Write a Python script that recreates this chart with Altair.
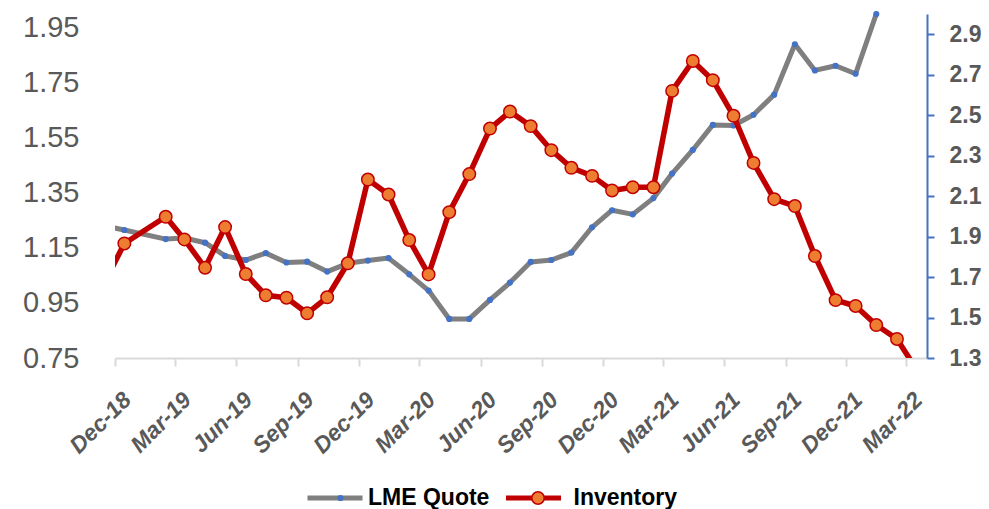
import altair as alt
import pandas as pd

# ---- data ----
lme_months = ["2018-11", "2018-12", "2019-02", "2019-03", "2019-04", "2019-05", "2019-06",
              "2019-07", "2019-08", "2019-09", "2019-10", "2019-11", "2019-12",
              "2020-01", "2020-02", "2020-03", "2020-04", "2020-05", "2020-06",
              "2020-07", "2020-08", "2020-09", "2020-10", "2020-11", "2020-12",
              "2021-01", "2021-02", "2021-03", "2021-04", "2021-05", "2021-06",
              "2021-07", "2021-08", "2021-09", "2021-10", "2021-11", "2021-12",
              "2022-01"]
lme_quote = [1.23, 1.215, 1.182, 1.186, 1.169, 1.121, 1.106,
             1.131, 1.097, 1.100, 1.064, 1.094, 1.104,
             1.113, 1.054, 0.995, 0.892, 0.892, 0.961,
             1.024, 1.099, 1.106, 1.133, 1.225, 1.287,
             1.272, 1.331, 1.420, 1.506, 1.597, 1.595,
             1.634, 1.707, 1.890, 1.795, 1.812, 1.783,
             2.000]

inv_months = ["2018-11", "2018-12", "2019-02", "2019-03", "2019-04", "2019-05", "2019-06",
              "2019-07", "2019-08", "2019-09", "2019-10", "2019-11", "2019-12",
              "2020-01", "2020-02", "2020-03", "2020-04", "2020-05", "2020-06",
              "2020-07", "2020-08", "2020-09", "2020-10", "2020-11", "2020-12",
              "2021-01", "2021-02", "2021-03", "2021-04", "2021-05", "2021-06",
              "2021-07", "2021-08", "2021-09", "2021-10", "2021-11", "2021-12",
              "2022-01", "2022-02", "2022-03"]
inventory = [1.67, 1.866, 1.998, 1.886, 1.746, 1.947, 1.715,
             1.610, 1.598, 1.521, 1.600, 1.768, 2.182,
             2.108, 1.883, 1.713, 2.021, 2.209, 2.434,
             2.518, 2.446, 2.327, 2.240, 2.200, 2.128,
             2.144, 2.144, 2.620, 2.768, 2.673, 2.497,
             2.264, 2.085, 2.051, 1.804, 1.586, 1.557,
             1.463, 1.394, 1.25]

tick_months = [(2018, 12), (2019, 3), (2019, 6), (2019, 9), (2019, 12), (2020, 3), (2020, 6),
               (2020, 9), (2020, 12), (2021, 3), (2021, 6), (2021, 9), (2021, 12), (2022, 3)]
left_ticks = [0.75, 0.95, 1.15, 1.35, 1.55, 1.75, 1.95]
right_ticks = [1.3, 1.5, 1.7, 1.9, 2.1, 2.3, 2.5, 2.7, 2.9]

GRAY = "#7F7F7F"
BLUE = "#4472C4"
RED = "#C00000"
ORANGE = "#ED7D31"
LABEL = "#595959"
FONT = "Liberation Sans"

lme_df = pd.DataFrame({"date": [m + "-15" for m in lme_months], "value": lme_quote,
                       "series": "LME Quote", "marker": "LME Quote marker"})
inv_df = pd.DataFrame({"date": [m + "-15" for m in inv_months], "value": inventory,
                       "series": "Inventory", "marker": "Inventory marker"})
lme_pts = lme_df[lme_df["date"] >= "2018-12"]
inv_pts = inv_df[inv_df["date"] >= "2018-12"]

x_scale = alt.Scale(type="utc",
                    domain=[alt.DateTime(year=2018, month=12, date=1, utc=True),
                            alt.DateTime(year=2022, month=4, date=1, utc=True)])
x_axis = alt.Axis(values=[alt.DateTime(year=y, month=m, date=1, utc=True) for y, m in tick_months],
                  format="%b-%y", title=None, grid=False,
                  domainColor="#D9D9D9", domainWidth=2, tickColor="#D9D9D9", tickWidth=2,
                  tickSize=8, labelAngle=315, labelAlign="right", labelBaseline="middle",
                  labelOffset=12, labelPadding=30, labelFont=FONT, labelFontSize=23,
                  labelFontWeight="bold", labelFontStyle="italic", labelColor=LABEL,
                  labelFlush=False, labelOverlap=False, labelBound=False)
X = alt.X("date:T", scale=x_scale, axis=x_axis)

left_axis = alt.Axis(values=left_ticks, format=".2f", title=None, grid=False, domain=False,
                     ticks=False, labelPadding=36, labelFont=FONT, labelFontSize=29,
                     labelColor=LABEL, labelFlush=False, labelOverlap=False)
right_axis = alt.Axis(orient="right", values=right_ticks, format=".1f", title=None, grid=False,
                      domainColor=BLUE, domainWidth=2, tickColor=BLUE, tickWidth=2, tickSize=7,
                      labelPadding=15, labelFont=FONT, labelFontSize=23, labelFontWeight="bold",
                      labelColor=LABEL, labelFlush=False, labelOverlap=False)
Y_left = alt.Y("value:Q", scale=alt.Scale(domain=[0.75, 2.0], nice=False, zero=False), axis=left_axis)
Y_right = alt.Y("value:Q", scale=alt.Scale(domain=[1.3, 3.0], nice=False, zero=False), axis=right_axis)

leg_common = dict(orient="none", title=None, padding=0, clipHeight=30,
                  labelFont=FONT, labelFontSize=23, labelFontWeight="bold", labelColor="#000000")

gray_line = alt.Chart(lme_df).mark_line(strokeWidth=5, clip=True, strokeJoin="round").encode(
    x=X, y=Y_left,
    stroke=alt.Stroke("series:N", scale=alt.Scale(domain=["LME Quote"], range=[GRAY]),
                      legend=alt.Legend(symbolType="stroke", symbolSize=3025, symbolStrokeWidth=5,
                                        labelOffset=3, legendX=190, legendY=469, zindex=1,
                                        **leg_common)))
gray_pts = alt.Chart(lme_pts).mark_circle(size=38, opacity=1).encode(
    x=X, y=Y_left,
    fill=alt.Fill("marker:N", scale=alt.Scale(domain=["LME Quote marker"], range=[BLUE]),
                  legend=alt.Legend(symbolType="circle", symbolSize=38, symbolStrokeWidth=0,
                                    labelExpr="''", legendX=214, legendY=469, zindex=2,
                                    **leg_common)))
red_line = alt.Chart(inv_df).mark_line(strokeWidth=5.5, clip=True, strokeJoin="round").encode(
    x=X, y=Y_right,
    stroke=alt.Stroke("series:N", scale=alt.Scale(domain=["Inventory"], range=[RED]),
                      legend=alt.Legend(symbolType="stroke", symbolSize=3025, symbolStrokeWidth=5,
                                        labelOffset=10, legendX=388.5, legendY=469, zindex=1,
                                        **leg_common)))
red_pts = alt.Chart(inv_pts).mark_circle(size=155, opacity=1, stroke=RED, strokeWidth=1.5, clip=True).encode(
    x=X, y=Y_right,
    fill=alt.Fill("marker:N", scale=alt.Scale(domain=["Inventory marker"], range=[ORANGE]),
                  legend=alt.Legend(symbolType="circle", symbolSize=155, symbolStrokeColor=RED,
                                    symbolStrokeWidth=1.5, labelExpr="''",
                                    legendX=411.5, legendY=469, zindex=2, **leg_common)))

gray = alt.layer(gray_line, gray_pts)
red = alt.layer(red_line, red_pts)

chart = alt.layer(gray, red).resolve_scale(
    y="independent", stroke="independent", fill="independent"
).properties(
    width=812, height=344,
    autosize=alt.AutoSizeParams(type="none"),
    padding={"left": 115, "top": 14, "right": 62, "bottom": 151},
    background="#FFFFFF",
).configure_view(strokeWidth=0)

chart.save("out.html", embed_options={"renderer": "svg", "actions": False})
